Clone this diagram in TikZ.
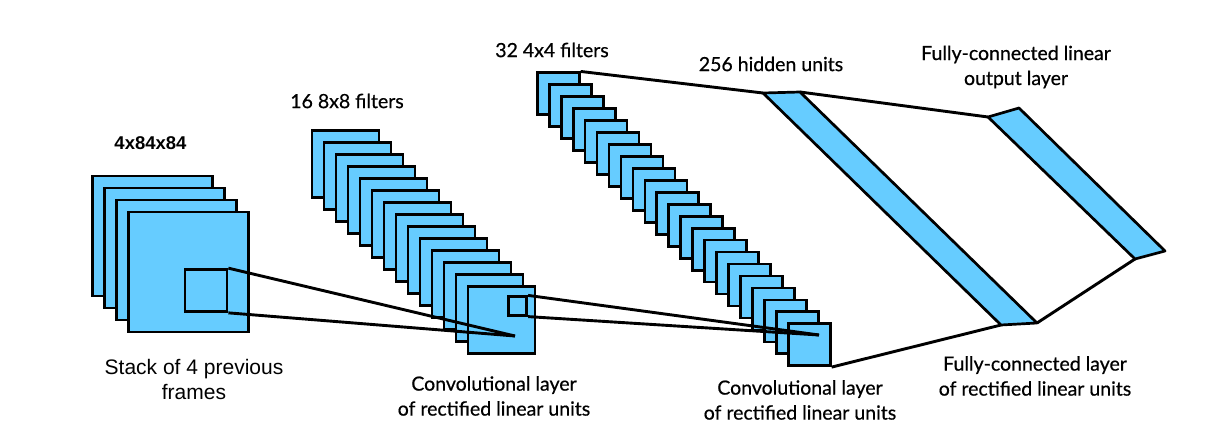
\documentclass[tikz,border=0pt]{standalone}
\usepackage{fontspec}
\setmainfont[FakeBold=0.6]{Lato}
\newfontfamily\helv{Liberation Sans}
\usepackage{tikz}
\usetikzlibrary{positioning,calc}
\definecolor{mapblue}{RGB}{102,204,255}
\pgfdeclarelayer{bg}
\pgfsetlayers{bg,main}

\begin{document}
\begin{tikzpicture}[x = 1pt, y = -1pt,
    fmap/.style = {draw, fill = mapblue, line width = 2.7pt, inner sep = 0pt},
    wire/.style = {line width = 2.9pt},
    lbl/.style = {font = \fontsize{19.5}{25}\selectfont, align = center, inner sep = 0pt}]
  \useasboundingbox (0,0) rectangle (1224,439);
  % input frames
  \foreach \i in {1,...,4}
    \node[fmap, minimum size = 120pt] (in\i) at ({152.5+12*(\i-1)}, {236+12*(\i-1)}) {};
  \node[fmap, minimum size = 42pt] (k1) at (206,290.5) {};
  % first convolutional layer
  \foreach \i in {1,...,14}
    \node[fmap, minimum size = 67pt] (ca\i) at ({345.5+12*(\i-1)}, {164+12*(\i-1)}) {};
  \node[fmap, minimum size = 18.5pt] (k2) at (517.5,306) {};
  % second convolutional layer
  \foreach \i in {1,...,22}
    \node[fmap, minimum size = 42pt] (cb\i) at ({558.3+11.95*(\i-1)}, {93.8+11.95*(\i-1)}) {};
  \coordinate (p1) at (515,336);
  \coordinate (p2) at (819,335);
  % fully-connected layers
  \coordinate (h1) at (763,93);
  \coordinate (h2) at (800,92);
  \coordinate (h3) at (1037,323);
  \coordinate (h4) at (1001,325);
  \coordinate (o1) at (988,117);
  \coordinate (o2) at (1019,108);
  \coordinate (o3) at (1165,251);
  \coordinate (o4) at (1135,259);
  \draw[fmap, line join = round] (h1) -- (h2) -- (h3) -- (h4) -- cycle;
  \draw[fmap, line join = round] (o1) -- (o2) -- (o3) -- (o4) -- cycle;
  \draw[wire] (k1.north east) -- (p1);
  \draw[wire] (k1.south east) -- (p1);
  \draw[wire] (k2.north east) -- (p2);
  \draw[wire] (k2.south east) -- (p2);
  \draw[wire] (cb1.north east) -- (h1);
  \draw[wire] (cb22.south east) -- (h4);
  \draw[wire] (h2) -- (o1);
  \draw[wire] (h3) -- (o4);
  % labels
  \node[lbl, font = \helv\bfseries\fontsize{18.5}{25}\selectfont] (tin) at (150.5,143) {4x84x84};
  \node[lbl, font = \helv\fontsize{21}{25}\selectfont] (tstack) at (194,379.5) {Stack of 4 previous\\frames};
  \node[lbl] (tca) at (347,101) {16 8x8 filters};
  \node[lbl] (tcb) at (552,50) {32 4x4 filters};
  \node[lbl] (thid) at (771,64) {256 hidden units};
  \node[lbl] (tout) at (1016,67) {Fully-connected linear\\output layer};
  \node[lbl] (tlca) at (494,396) {Convolutional layer\\of rectified linear units};
  \node[lbl] (tlcb) at (800,400) {Convolutional layer\\of rectified linear units};
  \node[lbl] (tlfc) at (1035,376) {Fully-connected layer\\of rectified linear units};
\end{tikzpicture}
\end{document}
